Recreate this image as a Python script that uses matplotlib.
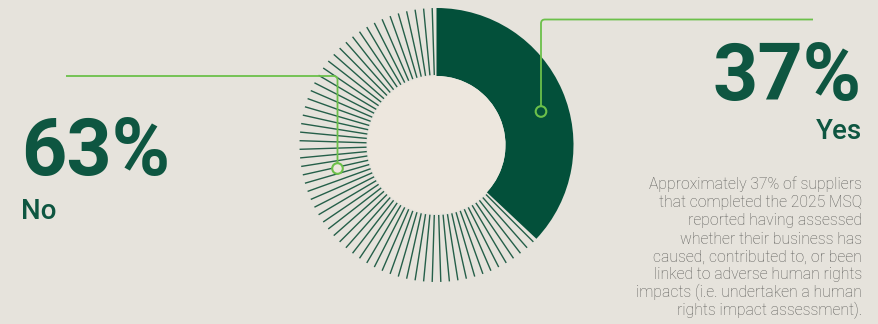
import numpy as np
import matplotlib
matplotlib.use("Agg")
import matplotlib.pyplot as plt
from matplotlib.patches import Wedge, Circle
from matplotlib.path import Path
from matplotlib.patches import PathPatch

# ---- data ----
categories = ["Yes", "No"]
values = [37, 63]
pct_labels = ["37%", "63%"]
description = [
    "Approximately 37% of suppliers",
    "that completed the 2025 MSQ",
    "reported having assessed",
    "whether their business has",
    "caused, contributed to, or been",
    "linked to adverse human rights",
    "impacts (i.e. undertaken a human",
    "rights impact assessment).",
]

BG = "#E6E3DC"
INNER = "#EDE7DE"
DARK = "#03503A"
TEXT_GREEN = "#0E5641"
LINE_GREEN = "#6CC04A"
GREY = "#5C5C59"

W, H = 879, 324
fig = plt.figure(figsize=(W / 100, H / 100), dpi=100, facecolor=BG)
ax = fig.add_axes([0, 0, 1, 1])
ax.set_xlim(0, W)
ax.set_ylim(H, 0)
ax.set_aspect("equal")
ax.axis("off")
ax.set_facecolor(BG)

cx, cy = 436.5, 145
R_out, R_in = 137, 69
total = sum(values)

# Yes wedge: starts at top, goes clockwise on screen (y-down axes)
yes_deg = 360 * values[0] / total
start = -90
ax.add_patch(Wedge((cx, cy), R_out, start, start + yes_deg, width=R_out - R_in,
                   facecolor=DARK, edgecolor="none", zorder=2))

# No section: one radial line per percent
step = 360 / total
for k in range(values[1]):
    a = np.deg2rad(-90 - step * (k + 0.5))
    xs = [cx + (R_in + 1) * np.cos(a), cx + R_out * np.cos(a)]
    ys = [cy + (R_in + 1) * np.sin(a), cy + R_out * np.sin(a)]
    ax.plot(xs, ys, color="#255F49", lw=1.0, solid_capstyle="butt", zorder=2)

ax.add_patch(Circle((cx, cy), R_in, facecolor=INNER, edgecolor="none", zorder=3))


def connector(points, corner_r=4):
    (x0, y0), (x1, y1), (x2, y2) = points
    d1 = np.array([x1 - x0, y1 - y0], float); d1 /= np.linalg.norm(d1)
    d2 = np.array([x2 - x1, y2 - y1], float); d2 /= np.linalg.norm(d2)
    p_a = np.array([x1, y1]) - d1 * corner_r
    p_b = np.array([x1, y1]) + d2 * corner_r
    verts = [(x0, y0), tuple(p_a), (x1, y1), tuple(p_b), (x2, y2)]
    codes = [Path.MOVETO, Path.LINETO, Path.CURVE3, Path.CURVE3, Path.LINETO]
    ax.add_patch(PathPatch(Path(verts, codes), fill=False, edgecolor=LINE_GREEN,
                           lw=1.3, zorder=5))


connector([(813, 19.5), (541, 19.5), (541, 106)])
ax.add_patch(Circle((541, 111.5), 5.3, facecolor="none", edgecolor=LINE_GREEN, lw=1.5, zorder=6))
connector([(66, 76), (337.5, 76), (337.5, 163)])
ax.add_patch(Circle((337.5, 168.5), 5.3, facecolor=INNER, edgecolor=LINE_GREEN, lw=1.5, zorder=6))

big = dict(family=["Roboto", "DejaVu Sans"], fontweight="bold", color=TEXT_GREEN, fontsize=57)
lab = dict(family=["Roboto", "DejaVu Sans"], fontweight="medium", color=TEXT_GREEN, fontsize=20)

ax.text(862, 100, pct_labels[0], ha="right", va="baseline", **big)
ax.text(862, 139, categories[0], ha="right", va="baseline", **lab)
ax.text(21, 175, pct_labels[1], ha="left", va="baseline", **big)
ax.text(21, 219, categories[1], ha="left", va="baseline", **lab)

for i, line in enumerate(description):
    ax.text(862, 189.5 + i * 18, line, ha="right", va="baseline",
            family=["Roboto", "DejaVu Sans"], fontweight="light", color=GREY, fontsize=11.3)

fig.savefig("out.png", dpi=100, facecolor=BG)
